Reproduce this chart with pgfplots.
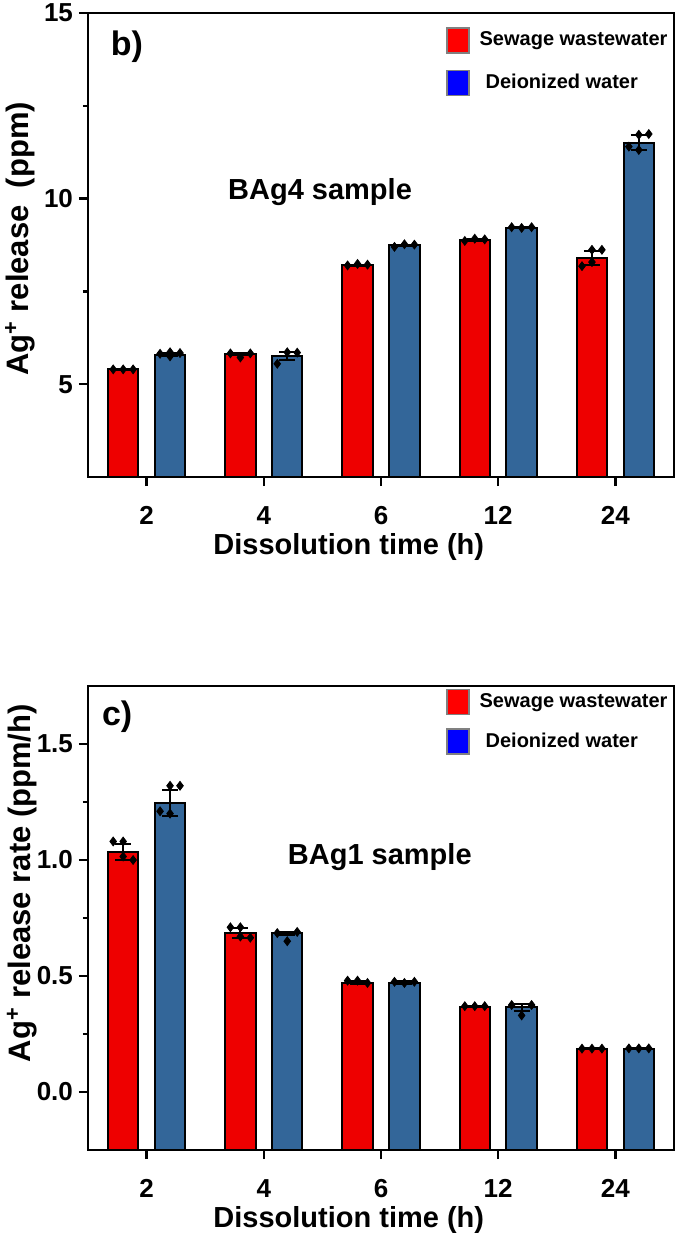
\documentclass[border=0pt]{standalone}
\usepackage{pgfplots}
\pgfplotsset{compat=1.18}
\usepackage{pgfplotstable}
\usepackage{fontspec}
\setmainfont{Liberation Sans}

\definecolor{sewred}{HTML}{EE0000}
\definecolor{diblue}{HTML}{336699}

% mean release and error per bar (x = category index -/+ 0.2)
\pgfplotstableread{
x     y     e
-0.2  5.40  0.01
0.8   5.81  0.03
1.8   8.20  0.02
2.8   8.88  0.02
3.8   8.40  0.20
}\relSewage
\pgfplotstableread{
x     y     e
0.2   5.80  0.03
1.2   5.76  0.10
2.2   8.74  0.02
3.2   9.22  0.01
4.2   11.50 0.20
}\relDI
\pgfplotstableread{
x     y      e
-0.2  1.035  0.035
0.8   0.685  0.020
1.8   0.472  0.006
2.8   0.368  0.003
3.8   0.186  0.002
}\rateSewage
\pgfplotstableread{
x     y      e
0.2   1.245  0.055
1.2   0.684  0.006
2.2   0.472  0.005
3.2   0.365  0.015
4.2   0.187  0.002
}\rateDI

\pgfplotsset{
  panel/.style={
    scale only axis, width=293pt, height=232pt,
    axis line style={line width=1.2pt},
    every tick/.style={line width=1.2pt, black},
    major tick length=4.5pt, minor tick length=2.5pt,
    tick align=outside, tick pos=left,
    xmin=-0.5, xmax=4.5,
    xtick={0,1,2,3,4}, xticklabels={2,4,6,12,24},
    font=\bfseries,
    tick label style={font=\fontsize{13}{15}\selectfont\bfseries},
    /pgf/number format/assume math mode=true,
    xticklabel style={inner sep=0pt, anchor=north, yshift=-10pt},
    yticklabel style={xshift=0.5pt},
    label style={font=\fontsize{15.5}{18}\selectfont\bfseries},
    xlabel={Dissolution time (h)},
    xlabel style={at={(axis description cs:0.445,-0.150)}, anchor=center,
      inner sep=0pt, font=\fontsize{14.5}{17}\selectfont\bfseries},
    ylabel style={inner sep=0pt},
    legend cell align=left,
    legend image code/.code={\draw[#1] (0pt,-6.25pt) rectangle (11pt,6.25pt);},
    legend style={draw=none, fill=none, inner sep=0pt, anchor=north west,
      font=\fontsize{10}{12}\selectfont\bfseries,
      nodes={inner xsep=5pt}},
  },
  sew/.style={fill=sewred, draw=black, line width=1pt},
  dib/.style={fill=diblue, draw=black, line width=1pt},
  pts/.style={only marks, mark=diamond*, mark size=2.2pt, black},
  errs/.style={draw=none, mark=none, forget plot,
    error bars/.cd, y dir=both, y explicit,
    error bar style={black, line width=1pt},
    error mark options={rotate=90, mark size=4pt, line width=1pt, black}},
}

\begin{document}
\begin{tikzpicture}
% ---------------- b) total release ----------------
\begin{axis}[panel, name=top, at={(0,0)}, anchor=south west,
  ymin=2.5, ymax=15, ytick={5,10,15}, minor ytick={7.5,12.5},
  ylabel={Ag\textsuperscript{+} release\ \ (ppm)},
  ylabel style={at={(axis description cs:-0.116,0.513)}, anchor=center},
  legend style={at={(axis description cs:0.611,0.970)}, row sep=8pt}]
\addlegendimage{fill=red, draw=gray, line width=0.6pt}
\addlegendentry{Sewage wastewater}
\addlegendimage{fill=blue, draw=gray, line width=0.6pt}
\addlegendentry{\hspace{3pt}Deionized water}
% bars drawn from the lower axis limit
\addplot[sew] coordinates {(-0.33,2.5) (-0.33,5.40) (-0.07,5.40) (-0.07,2.5)} -- cycle;
\addplot[sew] coordinates {(0.67,2.5) (0.67,5.81) (0.93,5.81) (0.93,2.5)} -- cycle;
\addplot[sew] coordinates {(1.67,2.5) (1.67,8.20) (1.93,8.20) (1.93,2.5)} -- cycle;
\addplot[sew] coordinates {(2.67,2.5) (2.67,8.88) (2.93,8.88) (2.93,2.5)} -- cycle;
\addplot[sew] coordinates {(3.67,2.5) (3.67,8.40) (3.93,8.40) (3.93,2.5)} -- cycle;
\addplot[dib] coordinates {(0.07,2.5) (0.07,5.80) (0.33,5.80) (0.33,2.5)} -- cycle;
\addplot[dib] coordinates {(1.07,2.5) (1.07,5.76) (1.33,5.76) (1.33,2.5)} -- cycle;
\addplot[dib] coordinates {(2.07,2.5) (2.07,8.74) (2.33,8.74) (2.33,2.5)} -- cycle;
\addplot[dib] coordinates {(3.07,2.5) (3.07,9.22) (3.33,9.22) (3.33,2.5)} -- cycle;
\addplot[dib] coordinates {(4.07,2.5) (4.07,11.50) (4.33,11.50) (4.33,2.5)} -- cycle;
\addplot[errs] table[x=x, y=y, y error=e] {\relSewage};
\addplot[errs] table[x=x, y=y, y error=e] {\relDI};
% individual replicates
\addplot[pts] coordinates {
  (-0.285,5.40) (-0.2,5.40) (-0.115,5.40)
  (0.115,5.82) (0.2,5.75) (0.2,5.86) (0.285,5.84)
  (0.715,5.83) (0.8,5.72) (0.885,5.83)
  (1.115,5.55) (1.2,5.86) (1.285,5.85)
  (1.715,8.20) (1.8,8.24) (1.885,8.22)
  (2.115,8.70) (2.2,8.77) (2.285,8.76)
  (2.715,8.86) (2.8,8.92) (2.885,8.90)
  (3.115,9.23) (3.2,9.21) (3.285,9.23)
  (3.715,8.18) (3.8,8.29) (3.8,8.62) (3.885,8.62)
  (4.115,11.40) (4.2,11.31) (4.2,11.72) (4.285,11.74)
};
\node[anchor=west, font=\fontsize{17}{20}\selectfont\bfseries]
  at (rel axis cs:0.027,0.927) {b)};
\node[font=\fontsize{14.5}{17}\selectfont\bfseries]
  at (rel axis cs:0.396,0.614) {BAg4 sample};
\end{axis}

% ---------------- c) release rate ----------------
\begin{axis}[panel, name=bottom, at={(0,-336.5pt)}, anchor=south west,
  ymin=-0.25, ymax=1.75, ytick={0,0.5,1,1.5}, minor ytick={0.25,0.75,1.25},
  yticklabel style={/pgf/number format/.cd, fixed, fixed zerofill, precision=1},
  ylabel={Ag\textsuperscript{+} release rate (ppm/h)},
  ylabel style={at={(axis description cs:-0.113,0.575)}, anchor=center},
  legend style={at={(axis description cs:0.611,0.994)}, row sep=6.5pt}]
\addlegendimage{fill=red, draw=gray, line width=0.6pt}
\addlegendentry{Sewage wastewater}
\addlegendimage{fill=blue, draw=gray, line width=0.6pt}
\addlegendentry{\hspace{3pt}Deionized water}
\addplot[sew] coordinates {(-0.33,-0.25) (-0.33,1.035) (-0.07,1.035) (-0.07,-0.25)} -- cycle;
\addplot[sew] coordinates {(0.67,-0.25) (0.67,0.685) (0.93,0.685) (0.93,-0.25)} -- cycle;
\addplot[sew] coordinates {(1.67,-0.25) (1.67,0.472) (1.93,0.472) (1.93,-0.25)} -- cycle;
\addplot[sew] coordinates {(2.67,-0.25) (2.67,0.368) (2.93,0.368) (2.93,-0.25)} -- cycle;
\addplot[sew] coordinates {(3.67,-0.25) (3.67,0.186) (3.93,0.186) (3.93,-0.25)} -- cycle;
\addplot[dib] coordinates {(0.07,-0.25) (0.07,1.245) (0.33,1.245) (0.33,-0.25)} -- cycle;
\addplot[dib] coordinates {(1.07,-0.25) (1.07,0.684) (1.33,0.684) (1.33,-0.25)} -- cycle;
\addplot[dib] coordinates {(2.07,-0.25) (2.07,0.472) (2.33,0.472) (2.33,-0.25)} -- cycle;
\addplot[dib] coordinates {(3.07,-0.25) (3.07,0.365) (3.33,0.365) (3.33,-0.25)} -- cycle;
\addplot[dib] coordinates {(4.07,-0.25) (4.07,0.187) (4.33,0.187) (4.33,-0.25)} -- cycle;
\addplot[errs] table[x=x, y=y, y error=e] {\rateSewage};
\addplot[errs] table[x=x, y=y, y error=e] {\rateDI};
\addplot[pts] coordinates {
  (-0.285,1.08) (-0.2,1.08) (-0.2,1.015) (-0.115,1.00)
  (0.115,1.21) (0.2,1.20) (0.2,1.32) (0.285,1.32)
  (0.715,0.71) (0.8,0.71) (0.8,0.67) (0.885,0.665)
  (1.115,0.685) (1.2,0.65) (1.285,0.69)
  (1.715,0.48) (1.8,0.48) (1.885,0.47)
  (2.115,0.475) (2.2,0.47) (2.285,0.475)
  (2.715,0.37) (2.8,0.37) (2.885,0.37)
  (3.115,0.375) (3.2,0.33) (3.285,0.375)
  (3.715,0.187) (3.8,0.187) (3.885,0.187)
  (4.115,0.188) (4.2,0.188) (4.285,0.188)
};
\node[anchor=west, font=\fontsize{17}{20}\selectfont\bfseries]
  at (rel axis cs:0.012,0.933) {c)};
\node[font=\fontsize{14.5}{17}\selectfont\bfseries]
  at (rel axis cs:0.498,0.631) {BAg1 sample};
\end{axis}

\pgfresetboundingbox
\path[use as bounding box] (-44pt,-378pt) rectangle (293.5pt,238.5pt);
\end{tikzpicture}
\end{document}
